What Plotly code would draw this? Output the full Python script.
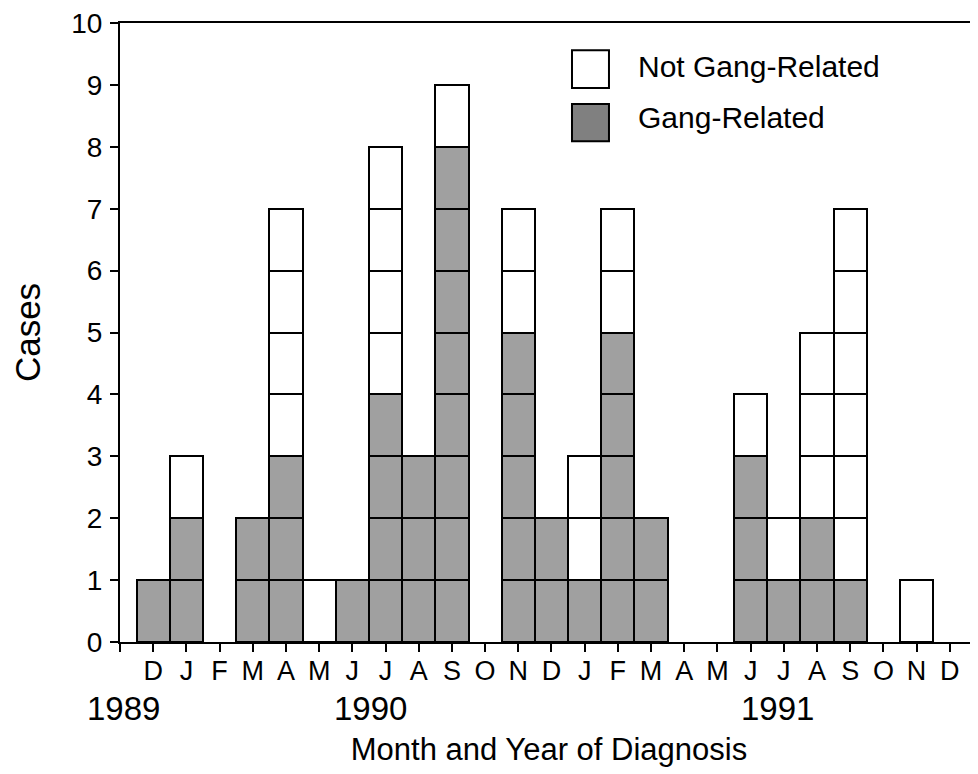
import plotly.graph_objects as go

months = ["D", "J", "F", "M", "A", "M", "J", "J", "A", "S", "O", "N", "D",
          "J", "F", "M", "A", "M", "J", "J", "A", "S", "O", "N", "D"]
gang = [1, 2, 0, 2, 3, 0, 1, 4, 3, 8, 0, 5, 2, 1, 5, 2, 0, 0, 3, 1, 2, 1, 0, 0, 0]
not_gang = [0, 1, 0, 0, 4, 1, 0, 4, 0, 1, 0, 2, 0, 2, 2, 0, 0, 0, 1, 1, 3, 6, 0, 1, 0]
year_labels = ["1989", "1990", "1991"]
year_pos = [-0.9, 6.55, 18.8]
legend_names = ["Not Gang-Related", "Gang-Related"]

x = list(range(len(months)))
GRAY = "#a0a0a0"
LEG_GRAY = "#808080"
FONT = "Liberation Sans, Arial, sans-serif"

fig = go.Figure()

# each case drawn as one unit box
for k in range(1, max(gang) + 1):
    fig.add_trace(go.Bar(x=x, y=[1 if g >= k else None for g in gang], width=1,
                         name=legend_names[1], legendgroup="g",
                         marker=dict(color=GRAY, line=dict(color="black", width=2)),
                         showlegend=False, hoverinfo="skip"))
for k in range(1, max(not_gang) + 1):
    fig.add_trace(go.Bar(x=x, y=[1 if n >= k else None for n in not_gang], width=1,
                         name=legend_names[0], legendgroup="n",
                         marker=dict(color="white", line=dict(color="black", width=2)),
                         showlegend=False, hoverinfo="skip"))

# year labels under the month letters
for yl, yp in zip(year_labels, year_pos):
    fig.add_annotation(x=yp, y=-0.108, xref="x", yref="paper", text=yl,
                       showarrow=False, yanchor="middle", xanchor="center",
                       font=dict(size=33, color="black", family=FONT))

# legend (large square keys as in the reference)
leg_fill = ["white", LEG_GRAY]
leg_box_y = [(0.895, 0.956), (0.809, 0.869)]
leg_text_y = [0.9297, 0.847]
for name, fill, (y0, y1), ty in zip(legend_names, leg_fill, leg_box_y, leg_text_y):
    fig.add_shape(type="rect", xref="paper", yref="paper",
                  x0=0.5268, x1=0.5699, y0=y0, y1=y1,
                  fillcolor=fill, line=dict(color="black", width=2))
    fig.add_annotation(x=0.6012, y=ty, xref="paper", yref="paper", text=name,
                       showarrow=False, xanchor="left", yanchor="middle",
                       font=dict(size=30, color="black", family=FONT))

# page body has an 8px margin: size the figure so the plot lands where the reference has it
fig.update_layout(
    width=970, height=766,
    barmode="stack", bargap=0,
    plot_bgcolor="white", paper_bgcolor="white",
    margin=dict(l=112, r=0, t=15, b=132),
    font=dict(family=FONT, color="black", size=26),
    showlegend=False,
    xaxis=dict(range=[-1, 24.85], tickvals=[-1] + x, ticktext=[""] + months,
               ticks="outside", ticklen=8, tickwidth=2, tickcolor="black",
               showline=True, linecolor="black", linewidth=2, mirror=True,
               showgrid=False, zeroline=False, automargin=False,
               ticklabelstandoff=-4, ticklabeloverflow="allow",
               tickfont=dict(size=27, color="black"),
               title=dict(text="Month and Year of Diagnosis", standoff=53,
                          font=dict(size=31, color="black"))),
    yaxis=dict(range=[0, 10], tickvals=list(range(11)),
               ticks="outside", ticklen=8, tickwidth=2, tickcolor="black",
               showline=True, linecolor="black", linewidth=2,
               showgrid=False, zeroline=False, automargin=False,
               ticklabelstandoff=2, ticklabeloverflow="allow",
               tickfont=dict(size=28, color="black"),
               title=dict(text="Cases", standoff=26,
                          font=dict(size=35, color="black"))),
)

fig.write_html("out.html")
